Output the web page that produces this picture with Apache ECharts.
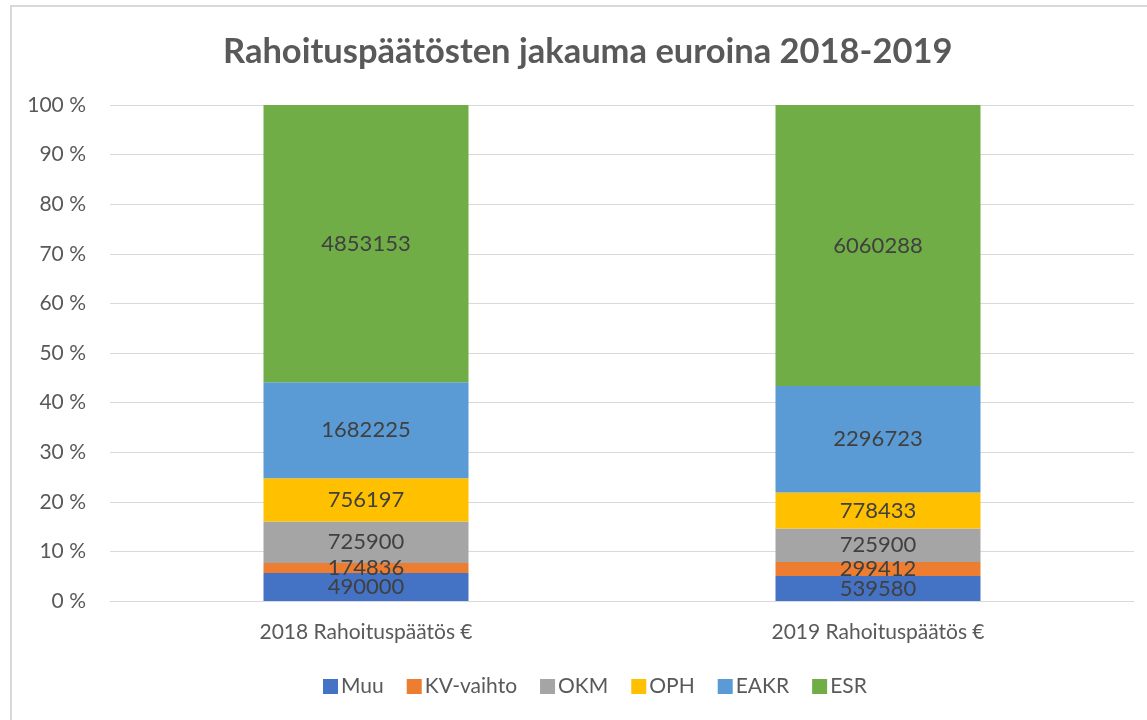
<!DOCTYPE html>
<html>
<head>
<meta charset="utf-8">
<script src="https://cdn.jsdelivr.net/npm/echarts@6/dist/echarts.min.js"></script>
<style>
  html, body { margin: 0; padding: 0; background: #fff; }
  #frame {
    position: absolute; left: 10px; top: 5px; width: 1140px; height: 730px;
    border: 2px solid #d9d9d9; box-sizing: border-box;
  }
  #chart { position: absolute; left: 0; top: 0; width: 1147px; height: 720px; }
</style>
</head>
<body>
<div id="frame"></div>
<div id="chart"></div>
<script>
// luokat ja sarjat
const categories = ['2018 Rahoituspäätös €', '2019 Rahoituspäätös €'];
const seriesNames = ['Muu', 'KV-vaihto', 'OKM', 'OPH', 'EAKR', 'ESR'];
const muu = [490000, 539580];
const kvVaihto = [174836, 299412];
const okm = [725900, 725900];
const oph = [756197, 778433];
const eakr = [1682225, 2296723];
const esr = [4853153, 6060288];
const colors = ['#4472c4', '#ed7d31', '#a5a5a5', '#ffc000', '#5b9bd5', '#70ad47'];

const allSeries = [muu, kvVaihto, okm, oph, eakr, esr];
// 100 % pinottu: summat per luokka
const totals = categories.map((_, i) => allSeries.reduce((s, arr) => s + arr[i], 0));

const chart = echarts.init(document.getElementById('chart'));

const option = {
  animation: false,
  textStyle: { fontFamily: 'Lato, "Liberation Sans", sans-serif' },
  title: {
    text: 'Rahoituspäätösten jakauma euroina 2018-2019',
    left: 218,
    top: 29,
    textStyle: { fontSize: 34.5, fontWeight: 'bold', color: '#595959', fontFamily: 'Lato, sans-serif' }
  },
  legend: {
    bottom: 18,
    left: 318,
    itemWidth: 15,
    itemHeight: 15,
    itemGap: 23,
    icon: 'rect',
    textStyle: { fontSize: 21, color: '#595959', padding: [0, 0, 0, -2] },
    data: seriesNames
  },
  grid: { left: 110, right: 13, top: 105, bottom: 119, containLabel: false },
  xAxis: {
    type: 'category',
    data: categories,
    axisLine: { show: true, lineStyle: { color: '#d9d9d9', width: 1 } },
    axisTick: { show: false },
    axisLabel: { fontSize: 21, color: '#595959', margin: 21 }
  },
  yAxis: {
    type: 'value',
    min: 0,
    max: 100,
    interval: 10,
    axisLine: { show: false },
    axisTick: { show: false },
    axisLabel: { fontSize: 21, color: '#595959', margin: 24, formatter: v => v + ' %' },
    splitLine: { lineStyle: { color: '#d9d9d9', width: 1 } }
  },
  series: seriesNames.map((name, k) => ({
    name: name,
    type: 'bar',
    stack: 'total',
    barWidth: 205,
    itemStyle: { color: colors[k] },
    label: {
      show: true,
      position: 'inside',
      fontSize: 22,
      color: '#404040',
      formatter: p => allSeries[k][p.dataIndex]
    },
    data: allSeries[k].map((v, i) => v / totals[i] * 100)
  }))
};

chart.setOption(option);
</script>
</body>
</html>
